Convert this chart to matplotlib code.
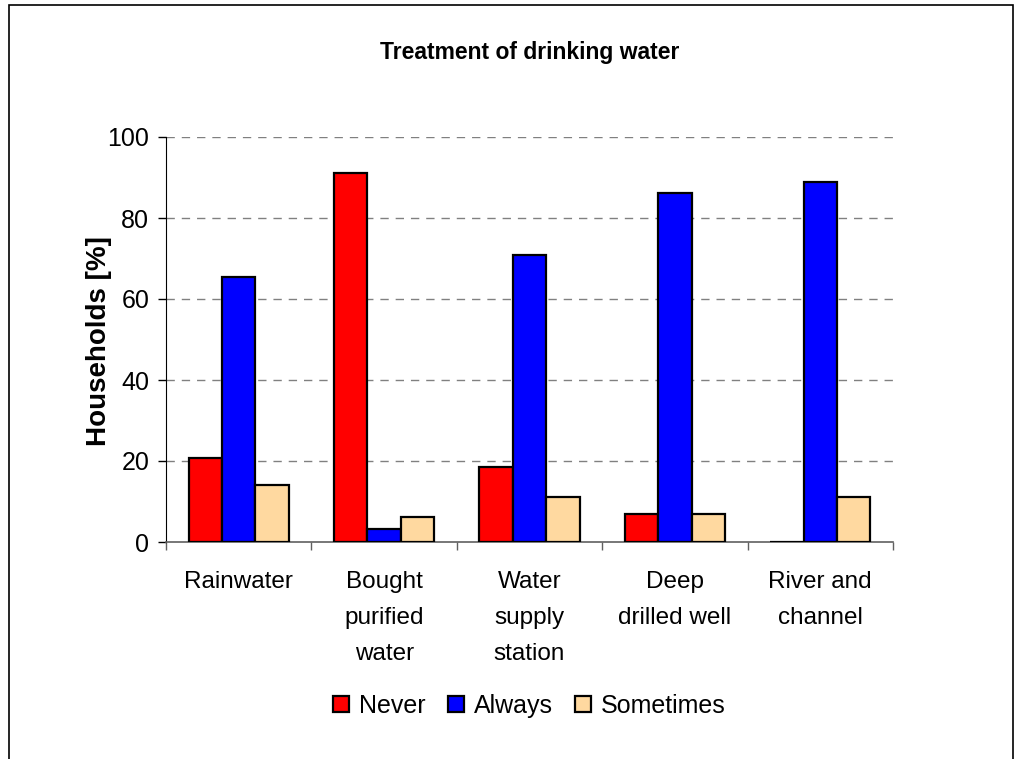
"""Treatment of drinking water: grouped bar chart."""

import matplotlib
matplotlib.use("Agg")
import matplotlib.pyplot as plt
import numpy as np
from matplotlib.patches import Rectangle

categories = ["Rainwater", "Bought\npurified\nwater", "Water\nsupply\nstation",
              "Deep\ndrilled well", "River and\nchannel"]
never = [20.8, 91.0, 18.4, 6.8, 0.0]
always = [65.5, 3.1, 70.9, 86.1, 89.0]
sometimes = [14.1, 6.2, 11.1, 6.8, 11.1]
series_names = ["Never", "Always", "Sometimes"]
yticks = [0, 20, 40, 60, 80, 100]

colors = ["#FF0000", "#0000FF", "#FFD9A0"]
FONT = "Liberation Sans"

fig = plt.figure(figsize=(10.17, 7.59), dpi=100)
ax = fig.add_axes([166 / 1017, 1 - 542 / 759, (893 - 166) / 1017, (542 - 137) / 759])

# outer chart frame
fig.patches.append(Rectangle((9 / 1017, -0.01), (1013 - 9) / 1017, 1 - 5 / 759 + 0.01,
                             transform=fig.transFigure, fill=False,
                             edgecolor="black", linewidth=1.2))

x = np.arange(len(categories))
width = 0.23
for i, (vals, name) in enumerate(zip([never, always, sometimes], series_names)):
    ax.bar(x + (i - 1) * width, vals, width, color=colors[i], edgecolor="black",
           linewidth=1.6, label=name, zorder=3)

ax.set_xlim(-0.5, len(categories) - 0.5)
ax.set_ylim(0, 100)
ax.set_yticks(yticks)
ax.set_yticklabels([str(v) for v in yticks], fontsize=18, family=FONT)
for v in yticks[1:]:
    ax.axhline(v, color="#808080", linestyle=(0, (6, 5)), linewidth=1.0, zorder=1)

# category ticks sit between groups
ax.set_xticks(np.arange(len(categories) + 1) - 0.5)
ax.set_xticklabels([])
ax.set_xticks(x, minor=True)
ax.set_xticklabels(categories, minor=True, fontsize=17.5, family=FONT, linespacing=1.82,
                   va="top")
ax.tick_params(axis="x", which="minor", length=0, pad=21)
ax.tick_params(axis="x", which="major", length=6, color="#606060", width=1)
ax.tick_params(axis="y", length=6, width=1, pad=6)

for side in ["top", "right"]:
    ax.spines[side].set_visible(False)
ax.spines["left"].set_color("black")
ax.spines["bottom"].set_color("#606060")
ax.spines["bottom"].set_linewidth(1.2)

ax.set_ylabel("Households [%]", fontsize=20, fontweight="bold", family=FONT)
ax.yaxis.set_label_coords(-0.0743, 0.495)
fig.text(0.5205, 1 - 52 / 759, "Treatment of drinking water", ha="center", va="center",
         fontsize=16.5, fontweight="bold", family=FONT)

fig.legend(loc="center", bbox_to_anchor=(0.5205, 1 - 706 / 759), ncol=3, frameon=False,
           prop={"family": FONT, "size": 18}, handlelength=0.62, handleheight=0.62,
           handletextpad=0.4, columnspacing=0.9)

fig.savefig("out.png", dpi=100)
